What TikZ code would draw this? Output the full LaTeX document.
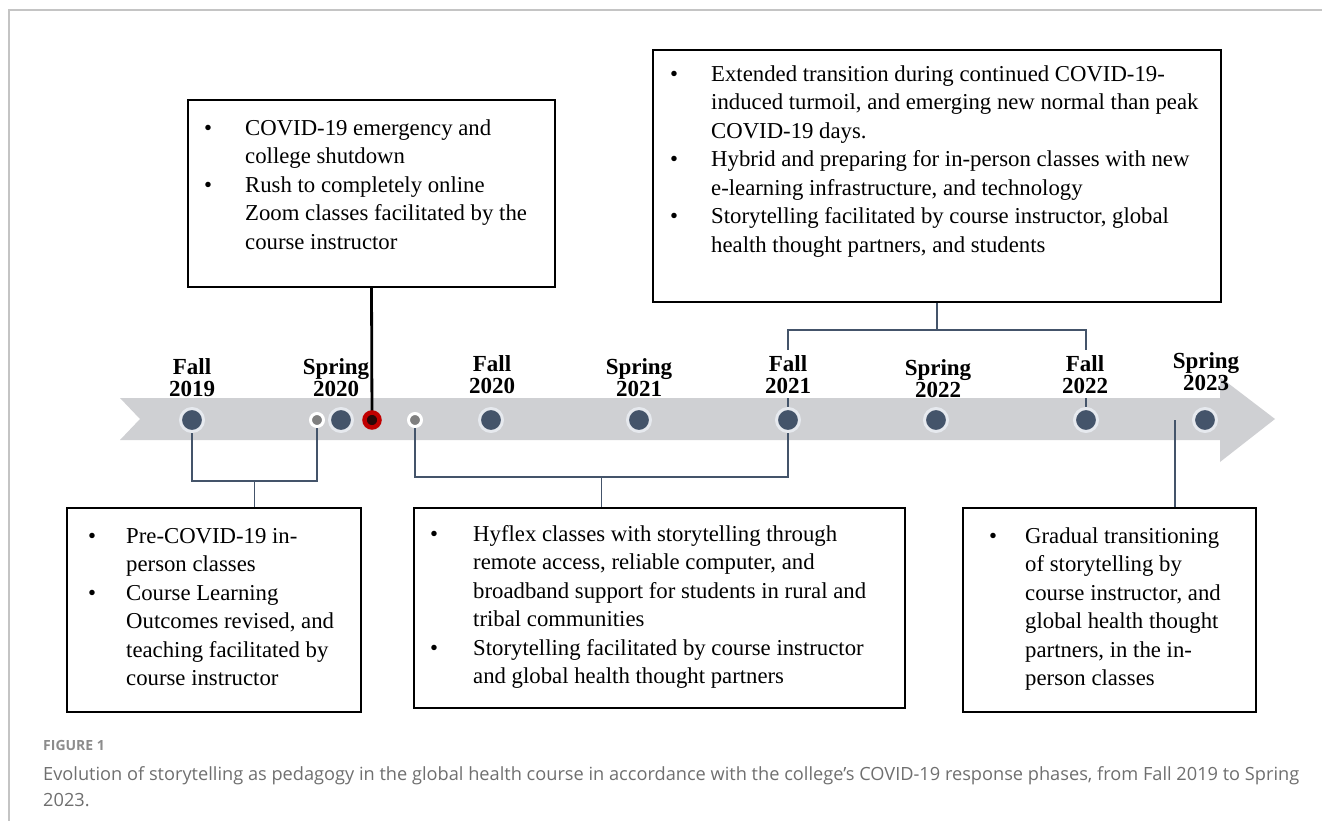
\documentclass[tikz,border=0pt]{standalone}
\usepackage{fontspec}
\setmainfont{Liberation Serif}
\newfontfamily\capfont{Open Sans}
\usetikzlibrary{backgrounds}

\definecolor{navy}{HTML}{44546A}
\definecolor{halo}{HTML}{E6E9EE}
\definecolor{band}{HTML}{CFD0D3}
\definecolor{dotgray}{HTML}{7F7F7F}
\definecolor{redring}{HTML}{C00000}
\definecolor{reddark}{HTML}{2A0808}
\definecolor{framegray}{HTML}{C4C4C4}
\definecolor{capgray}{HTML}{6F6F6F}
\definecolor{figgray}{HTML}{8C8C8C}

\begin{document}
\begin{tikzpicture}[x=1pt,y=-1pt,
  box/.style={draw=black, line width=2.4pt, inner sep=0pt, outer sep=0pt, anchor=north west},
  btext/.style={anchor=north west, inner sep=0pt, font=\fontsize{22.75}{28.5}\selectfont},
  tlabel/.style={anchor=north, inner xsep=3pt, inner ysep=5pt, align=center,
                 font=\fontsize{23}{22}\selectfont\bfseries},
  clearlabel/.style={tlabel, fill=white},
  bigdot/.style={circle, fill=navy, draw=halo, line width=3pt, minimum size=23pt, inner sep=0pt},
  smalldot/.style={circle, fill=dotgray, draw=white, line width=3pt, minimum size=13pt, inner sep=0pt},
  reddot/.style={circle, fill=reddark, draw=redring, line width=4.5pt, minimum size=15pt, inner sep=0pt},
  conn/.style={draw=navy, line width=1.6pt},
  mainconn/.style={draw=black, line width=2.8pt}
]
\useasboundingbox (0,0) rectangle (1322,821);

% outer frame (top and left edges)
\draw[framegray, line width=1.5pt] (9,821) -- (9,10) -- (1322,10);

% ---- timeline dots ----
\node[bigdot]   (f19) at (192,420) {};
\node[smalldot] (s1)  at (317,420) {};
\node[bigdot]   (sp20) at (341,420) {};
\node[reddot]   (red) at (372,420) {};
\node[smalldot] (s2)  at (415,420) {};
\node[bigdot]   (f20) at (491,420) {};
\node[bigdot]   (sp21) at (639,420) {};
\node[bigdot]   (f21) at (788,420) {};
\node[bigdot]   (sp22) at (936,420) {};
\node[bigdot]   (f22) at (1086,420) {};
\node[bigdot]   (sp23) at (1205,420) {};
\coordinate (e0) at (1175,420);

% ---- boxes ----
\node[box, minimum width=367pt, minimum height=187pt] (boxA) at (188,100) {};
\node[box, minimum width=568pt, minimum height=252pt] (boxB) at (653,50) {};
\node[box, minimum width=294pt, minimum height=204pt] (boxC) at (67,508) {};
\node[box, minimum width=491pt, minimum height=200pt] (boxD) at (414,508) {};
\node[box, minimum width=293pt, minimum height=204pt] (boxE) at (963,508) {};

% ---- box texts ----
\node[btext] (tA) at (204,115.05) {\begin{tabular}{@{}p{41pt}@{}l@{}}
\textbullet & COVID-19 emergency and\\
 & college shutdown\\
\textbullet & Rush to completely online\\
 & Zoom classes facilitated by the\\
 & course instructor
\end{tabular}};

\node[btext] (tB) at (670,61.05) {\begin{tabular}{@{}p{41pt}@{}l@{}}
\textbullet & Extended transition during continued COVID-19-\\
 & induced turmoil, and emerging new normal than peak\\
 & COVID-19 days.\\
\textbullet & Hybrid and preparing for in-person classes with new\\
 & e-learning infrastructure, and technology\\
\textbullet & Storytelling facilitated by course instructor, global\\
 & health thought partners, and students
\end{tabular}};

\node[btext] (tC) at (88,523.05) {\begin{tabular}{@{}p{38pt}@{}l@{}}
\textbullet & Pre-COVID-19 in-\\
 & person classes\\
\textbullet & Course Learning\\
 & Outcomes revised, and\\
 & teaching facilitated by\\
 & course instructor
\end{tabular}};

\node[btext] (tD) at (430,521.05) {\begin{tabular}{@{}p{43pt}@{}l@{}}
\textbullet & Hyflex classes with storytelling through\\
 & remote access, reliable computer, and\\
 & broadband support for students in rural and\\
 & tribal communities\\
\textbullet & Storytelling facilitated by course instructor\\
 & and global health thought partners
\end{tabular}};

\node[btext] (tE) at (989,523.05) {\begin{tabular}{@{}p{36pt}@{}l@{}}
\textbullet & Gradual transitioning\\
 & of storytelling by\\
 & course instructor, and\\
 & global health thought\\
 & partners, in the in-\\
 & person classes
\end{tabular}};

% ---- band and connectors behind the dots ----
\begin{pgfonlayer}{background}
  \fill[band] (120,398) -- (1220,398) -- (1220,377) -- (1275,419) -- (1220,462)
              -- (1220,440) -- (120,440) -- (140,419) -- cycle;
  \coordinate (jt) at (boxB.south |- 0,330);
  \draw[conn] (boxB.south) -- (jt);
  \draw[conn] (f21.center) |- (jt) -| (f22.center);
  \coordinate (jc) at (254.5,481);
  \draw[conn] (f19.center) |- (jc) -| (s1.center);
  \draw[conn] (jc) -- (jc |- boxC.north);
  \coordinate (jm) at (601.5,477);
  \draw[conn] (s2.center) |- (jm) -| (f21.center);
  \draw[conn] (jm) -- (jm |- boxD.north);
  \draw[conn] (e0) -- (e0 |- boxE.north);
  \draw[mainconn] (boxA.south) -- (red.center);
\end{pgfonlayer}

% ---- term labels ----
\node[tlabel]     (lf19)  at (192,352.9)  {Fall\\2019};
\node[tlabel]     (lsp20) at (336,352.9)  {Spring\\2020};
\node[tlabel]     (lf20)  at (492,349.9)  {Fall\\2020};
\node[tlabel]     (lsp21) at (639,352.9)  {Spring\\2021};
\node[clearlabel] (lf21)  at (788,349.9)  {Fall\\2021};
\node[tlabel]     (lsp22) at (938,353.9)  {Spring\\2022};
\node[clearlabel] (lf22)  at (1085,349.9) {Fall\\2022};
\node[tlabel]     (lsp23) at (1206,346.9) {Spring\\2023};

% ---- caption ----
\node[anchor=base west, inner sep=0pt, text=figgray, font=\capfont\bfseries\fontsize{14}{16}\selectfont]
  (fig) at (43,750) {FIGURE 1};
\node[anchor=base west, inner sep=0pt, text=capgray, align=left,
      font=\capfont\fontsize{18.2}{26}\selectfont] (cap) at (43,806)
  {Evolution of storytelling as pedagogy in the global health course in accordance with the college’s COVID-19 response phases, from Fall 2019 to Spring\\2023.};
\end{tikzpicture}
\end{document}
